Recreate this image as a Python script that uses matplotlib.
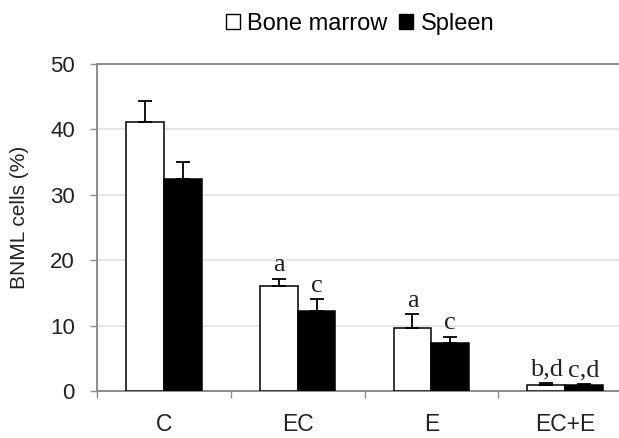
import numpy as np
import matplotlib
matplotlib.use("Agg")
import matplotlib.pyplot as plt
from matplotlib.patches import Patch

# values
groups = ["C", "EC", "E", "EC+E"]
bone_marrow = [41.1, 16.0, 9.7, 0.9]
bone_marrow_err = [3.2, 1.2, 2.0, 0.3]
spleen = [32.4, 12.3, 7.4, 0.9]
spleen_err = [2.6, 1.7, 0.9, 0.1]
bm_marks = ["", "a", "a", "b,d"]
sp_marks = ["", "c", "c", "c,d"]

plt.rcParams['font.family'] = ['Liberation Sans', 'DejaVu Sans']
grey = "#8c8c8c"

W, H = 619, 438
fig = plt.figure(figsize=(W / 100, H / 100), dpi=100)
# plot area runs past the right edge of the image, as in the reference
ax = fig.add_axes([97 / W, (H - 391) / H, 535 / W, 327 / H])

x = np.arange(len(groups)) + 0.5
w = 0.283
ax.bar(x - w / 2, bone_marrow, w, color="white", edgecolor="black", linewidth=1.1, zorder=3)
ax.bar(x + w / 2, spleen, w, color="black", edgecolor="black", linewidth=1.1, zorder=3)
ax.errorbar(x - w / 2, bone_marrow, yerr=[np.zeros(4), bone_marrow_err], fmt="none",
            ecolor="black", elinewidth=1.3, capsize=5, capthick=1.3, zorder=4)
ax.errorbar(x + w / 2, spleen, yerr=[np.zeros(4), spleen_err], fmt="none",
            ecolor="black", elinewidth=1.3, capsize=5, capthick=1.3, zorder=4)

for i in range(len(groups)):
    if bm_marks[i]:
        ax.annotate(bm_marks[i], (x[i] - w / 2, bone_marrow[i] + bone_marrow_err[i]),
                    xytext=(0, 2), textcoords="offset points", ha="center", va="bottom",
                    fontsize=19, family="Liberation Serif", color="#222222")
    if sp_marks[i]:
        ax.annotate(sp_marks[i], (x[i] + w / 2, spleen[i] + spleen_err[i]),
                    xytext=(0, 2), textcoords="offset points", ha="center", va="bottom",
                    fontsize=19, family="Liberation Serif", color="#222222")

ax.set_xlim(0, 4)
ax.set_ylim(0, 50)
ax.set_yticks([0, 10, 20, 30, 40, 50])
ax.yaxis.grid(True, color="#e3e3e3", linewidth=1.2, zorder=0)
ax.set_axisbelow(True)

ax.set_xticks(x)
ax.set_xticklabels(groups)
ax.set_xticks(np.arange(0, 4), minor=True)
ax.tick_params(axis="x", which="major", length=0, pad=16, labelsize=16.5, colors="#222222")
ax.tick_params(axis="x", which="minor", length=5, color=grey, width=1)
ax.tick_params(axis="y", length=5, color=grey, width=1, pad=11, labelsize=16, labelcolor="#222222")

for side in ["left", "bottom", "top"]:
    ax.spines[side].set_color(grey)
    ax.spines[side].set_linewidth(1.4)
ax.spines["right"].set_visible(False)

ax.set_ylabel("BNML cells (%)", fontsize=15, color="#222222")
ax.yaxis.set_label_coords(-0.128, 0.53)

handles = [Patch(facecolor="white", edgecolor="black", linewidth=1),
           Patch(facecolor="black", edgecolor="black", linewidth=1)]
fig.legend(handles, ["Bone marrow", "Spleen"], loc="center", bbox_to_anchor=(360 / W, 1 - 24 / H),
           ncol=2, frameon=False, fontsize=17, handlelength=0.6, handleheight=0.6,
           handletextpad=0.3, columnspacing=0.5)

fig.savefig("out.png", dpi=100)
